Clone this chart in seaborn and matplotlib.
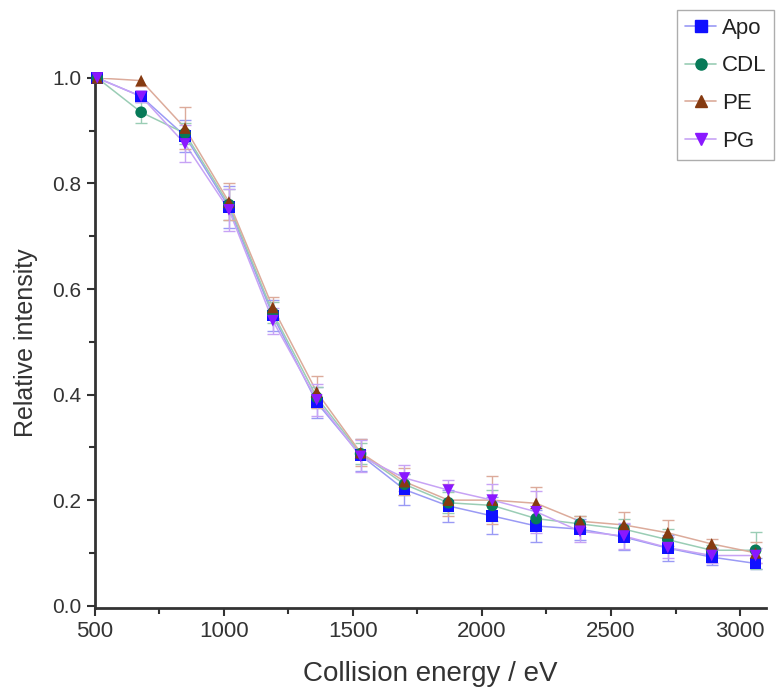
import numpy as np
import pandas as pd
import seaborn as sns
import matplotlib.pyplot as plt
from matplotlib.lines import Line2D
from matplotlib.ticker import MultipleLocator

# collision energies (eV)
energy = [510, 680, 850, 1020, 1190, 1360, 1530, 1700, 1870, 2040, 2210, 2380, 2550, 2720, 2890, 3060]

apo = [1.0, 0.965, 0.89, 0.755, 0.55, 0.385, 0.285, 0.22, 0.189, 0.17, 0.151, 0.145, 0.13, 0.109, 0.092, 0.08]
cdl = [1.0, 0.935, 0.895, 0.76, 0.555, 0.395, 0.288, 0.23, 0.195, 0.19, 0.165, 0.155, 0.145, 0.125, 0.105, 0.105]
pe = [1.0, 0.995, 0.905, 0.765, 0.565, 0.405, 0.29, 0.235, 0.2, 0.2, 0.194, 0.16, 0.153, 0.138, 0.117, 0.1]
pg = [1.0, 0.965, 0.875, 0.75, 0.54, 0.39, 0.283, 0.242, 0.219, 0.2, 0.178, 0.141, 0.132, 0.11, 0.095, 0.095]

apo_err = [0, 0.01, 0.03, 0.04, 0.03, 0.03, 0.03, 0.03, 0.03, 0.035, 0.03, 0.02, 0.025, 0.025, 0.015, 0.01]
cdl_err = [0, 0.02, 0.02, 0.03, 0.02, 0.02, 0.02, 0.02, 0.02, 0.03, 0.02, 0.015, 0.02, 0.02, 0.01, 0.035]
pe_err = [0, 0.01, 0.04, 0.035, 0.02, 0.03, 0.025, 0.025, 0.03, 0.045, 0.03, 0.01, 0.025, 0.025, 0.01, 0.02]
pg_err = [0, 0.01, 0.035, 0.04, 0.025, 0.03, 0.03, 0.025, 0.02, 0.03, 0.04, 0.02, 0.025, 0.02, 0.015, 0.015]

names = ["Apo", "CDL", "PE", "PG"]

colors = {"Apo": "#1010ff", "CDL": "#077a58", "PE": "#863a10", "PG": "#8a18ff"}
light = {"Apo": "#9a9af5", "CDL": "#9acdb5", "PE": "#dcab9b", "PG": "#c7a3f5"}
markers = {"Apo": "s", "CDL": "o", "PE": "^", "PG": "v"}

df = pd.DataFrame({
    "energy": energy * 4,
    "intensity": apo + cdl + pe + pg,
    "err": apo_err + cdl_err + pe_err + pg_err,
    "sample": np.repeat(names, len(energy)),
})

sns.set_style("ticks")
plt.rcParams["font.family"] = ["Liberation Sans", "DejaVu Sans"]

fig = plt.figure(figsize=(7.76, 6.96), dpi=100)
ax = fig.add_axes([0.122, 0.126, 0.865, 0.762])

# pale connecting lines
sns.lineplot(data=df, x="energy", y="intensity", hue="sample", palette=light,
             linewidth=1.1, legend=False, ax=ax, zorder=1)

# error bars
for name in names:
    sub = df[df["sample"] == name]
    ax.errorbar(sub["energy"], sub["intensity"], yerr=sub["err"], fmt="none",
                ecolor=light[name], elinewidth=1, capsize=4, capthick=1, zorder=2)

# saturated markers
sns.scatterplot(data=df, x="energy", y="intensity", hue="sample", style="sample",
                palette=colors, markers=markers, s=70, edgecolor="none",
                legend=False, ax=ax, zorder=3, clip_on=False)

ax.set_xlim(500, 3100)
ax.set_ylim(-0.005, 1.0)
ax.xaxis.set_major_locator(MultipleLocator(500))
ax.xaxis.set_minor_locator(MultipleLocator(250))
ax.yaxis.set_minor_locator(MultipleLocator(0.1))
ax.set_yticks([0.0, 0.2, 0.4, 0.6, 0.8, 1.0])
ax.set_yticklabels(["0.0", "0.2", "0.4", "0.6", "0.8", "1.0"])

sns.despine(ax=ax)
for side in ["left", "bottom"]:
    ax.spines[side].set_linewidth(2)
    ax.spines[side].set_color("#333333")
ax.tick_params(which="major", length=6, width=1.5, color="#333333", labelcolor="#333333")
ax.tick_params(which="minor", length=4, width=1.5, color="#333333")
ax.tick_params(axis="x", labelsize=16)
ax.tick_params(axis="y", labelsize=15)

ax.set_xlabel("Collision energy / eV", fontsize=20, color="#333333", labelpad=13)
ax.set_ylabel("Relative intensity", fontsize=18, color="#333333", labelpad=10)

handles = [Line2D([0], [0], color=light[n], marker=markers[n], markerfacecolor=colors[n],
                  markeredgecolor=colors[n], markersize=8, linewidth=1.2) for n in names]
leg = fig.legend(handles, names, loc="upper right", bbox_to_anchor=(774 / 776, 1 - 10 / 696),
                 fontsize=16, frameon=True, fancybox=False, handlelength=1.4,
                 handletextpad=0.25, borderpad=0.35, borderaxespad=0, labelspacing=0.75)
leg.get_frame().set_edgecolor("#999999")
leg.get_frame().set_linewidth(1)
for t in leg.get_texts():
    t.set_color("#222222")

fig.savefig("out.png", dpi=100)
